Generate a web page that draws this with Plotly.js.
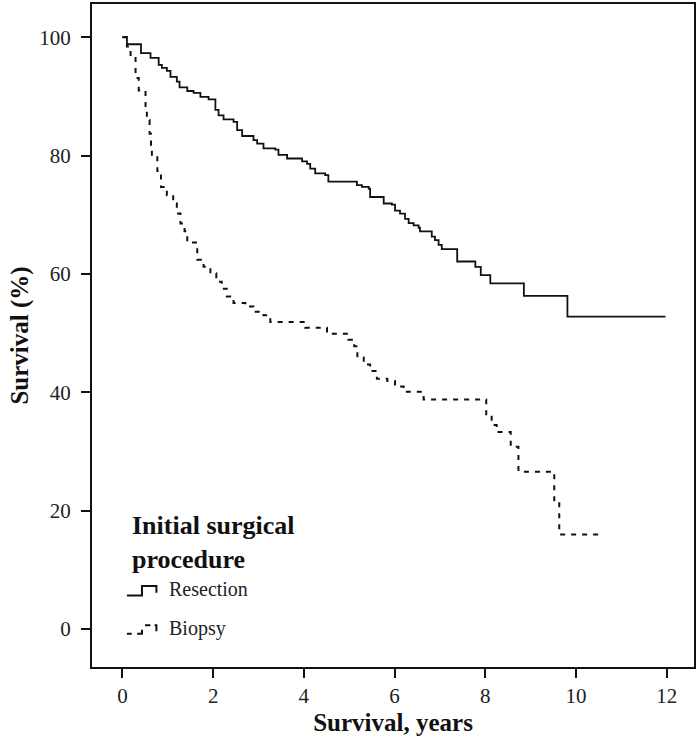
<!DOCTYPE html>
<html>
<head>
<meta charset="utf-8">
<script src="https://cdn.plot.ly/plotly-3.0.1.min.js"></script>
<style>html,body{margin:0;padding:0;background:#fff;}#chart{width:700px;height:739px;}</style>
</head>
<body>
<div id="chart"></div>
<script>
// Kaplan-Meier step data (years, survival %)
const resectionYears = [0, 0.10, 0.41, 0.62, 0.80, 0.87, 0.98, 1.06, 1.20, 1.26, 1.43, 1.57, 1.72, 1.90, 2.05, 2.12, 2.23, 2.45, 2.53, 2.64, 2.89, 2.97, 3.11, 3.37, 3.44, 3.63, 3.96, 4.07, 4.14, 4.25, 4.47, 4.54, 5.17, 5.28, 5.43, 5.46, 5.76, 5.94, 6.01, 6.12, 6.23, 6.31, 6.42, 6.53, 6.56, 6.82, 6.89, 6.97, 7.04, 7.38, 7.78, 7.90, 8.11, 8.85, 9.81, 11.97];
const resectionSurv  = [100, 98.8, 97.3, 96.5, 95.3, 94.8, 94.3, 93.3, 92.5, 91.5, 90.9, 90.6, 89.9, 89.5, 87.7, 86.8, 86.1, 85.7, 84.3, 83.3, 82.6, 82.0, 81.2, 81.0, 80.1, 79.5, 79.0, 78.6, 77.8, 77.0, 76.7, 75.6, 75.0, 74.7, 74.4, 73.0, 71.9, 71.7, 70.7, 70.2, 69.3, 68.6, 68.2, 67.8, 67.2, 66.3, 65.7, 64.9, 64.2, 62.1, 61.2, 59.8, 58.4, 56.3, 52.8, 52.8];

const biopsyYears = [0, 0.10, 0.18, 0.29, 0.36, 0.51, 0.54, 0.60, 0.63, 0.65, 0.77, 0.85, 0.98, 1.12, 1.20, 1.28, 1.37, 1.43, 1.65, 1.79, 1.94, 2.07, 2.19, 2.30, 2.45, 2.71, 2.89, 3.11, 3.26, 4.03, 4.51, 4.98, 5.11, 5.18, 5.32, 5.46, 5.61, 5.84, 6.01, 6.20, 6.64, 8.02, 8.14, 8.25, 8.56, 8.73, 9.52, 9.63, 10.50];
const biopsySurv  = [100, 98.4, 97.0, 93.1, 91.0, 87.7, 86.0, 83.7, 81.8, 79.9, 77.4, 74.7, 73.3, 71.9, 70.2, 68.5, 67.2, 65.3, 62.4, 61.2, 60.1, 58.7, 57.5, 56.2, 55.1, 54.5, 53.6, 53.0, 51.9, 50.9, 49.9, 48.9, 47.8, 45.9, 44.7, 43.6, 42.3, 41.9, 41.0, 40.1, 38.8, 36.1, 34.5, 33.3, 30.8, 26.6, 21.5, 16.0, 16.0];

const xTicks = [0, 2, 4, 6, 8, 10, 12];
const yTicks = [0, 20, 40, 60, 80, 100];
const legendTitle = "Initial surgical<br>procedure";
const seriesNames = ["Resection", "Biopsy"];

const FONT = "'Liberation Serif', 'Times New Roman', 'DejaVu Serif', serif";

const traces = [
  {x: resectionYears, y: resectionSurv, name: seriesNames[0], type: "scatter", mode: "lines",
   line: {shape: "hv", color: "#111", width: 1.8}},
  {x: biopsyYears, y: biopsySurv, name: seriesNames[1], type: "scatter", mode: "lines",
   line: {shape: "hv", color: "#111", width: 2, dash: "5px,6px"}}
];

const layout = {
  width: 700, height: 739,
  margin: {l: 92, r: 6, t: 4, b: 72},
  paper_bgcolor: "#fff", plot_bgcolor: "#fff",
  showlegend: false,
  font: {family: FONT, color: "#111", size: 21},
  xaxis: {
    range: [-0.67, 12.6], tickvals: xTicks, ticktext: xTicks.map(String),
    ticks: "outside", ticklen: 9, tickwidth: 2, tickcolor: "#111",
    showgrid: false, zeroline: false, showline: true, linecolor: "#111", linewidth: 2, mirror: true,
    tickfont: {family: FONT, size: 21, color: "#222"},
    title: {text: "<b>Survival, years</b>", font: {family: FONT, size: 25, color: "#111"}, standoff: 6}
  },
  yaxis: {
    range: [-6.4, 105.6], tickvals: yTicks, ticktext: yTicks.map(String),
    ticks: "outside", ticklen: 9, tickwidth: 2, tickcolor: "#111", ticklabelstandoff: 6,
    showgrid: false, zeroline: false, showline: true, linecolor: "#111", linewidth: 2, mirror: true,
    tickfont: {family: FONT, size: 21, color: "#222"},
    title: {text: "<b>Survival (%)</b>", font: {family: FONT, size: 25, color: "#111"}, standoff: 4}
  },
  annotations: [
    {xref: "paper", yref: "paper", x: 0.063, y: 0.239, xanchor: "left", yanchor: "top", align: "left",
     text: "<b>" + legendTitle + "</b>", showarrow: false, font: {family: FONT, size: 26, color: "#111"}},
    {xref: "paper", yref: "paper", x: 0.125, y: 0.118, xanchor: "left", yanchor: "middle",
     text: seriesNames[0], showarrow: false, font: {family: FONT, size: 20, color: "#222"}},
    {xref: "paper", yref: "paper", x: 0.125, y: 0.058, xanchor: "left", yanchor: "middle",
     text: seriesNames[1], showarrow: false, font: {family: FONT, size: 20, color: "#222"}}
  ],
  shapes: [
    {type: "path", xref: "paper", yref: "paper",
     path: "M 0.058 0.108 L 0.083 0.108 L 0.083 0.122 L 0.107 0.122 L 0.107 0.112",
     line: {color: "#111", width: 2}},
    {type: "path", xref: "paper", yref: "paper",
     path: "M 0.058 0.050 L 0.066 0.050 M 0.075 0.050 L 0.083 0.050 L 0.083 0.056 M 0.088 0.063 L 0.097 0.063 M 0.104 0.063 L 0.107 0.063 L 0.107 0.054",
     line: {color: "#111", width: 2}}
  ]
};

Plotly.newPlot("chart", traces, layout, {displayModeBar: false, staticPlot: true});
</script>
</body>
</html>
